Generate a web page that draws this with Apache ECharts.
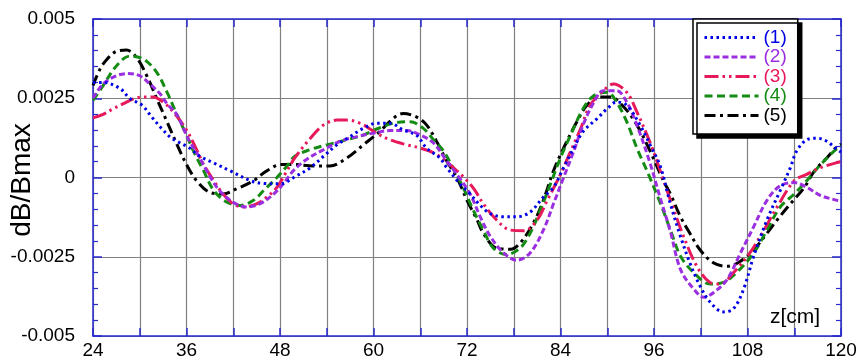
<!DOCTYPE html>
<html><head><meta charset="utf-8">
<script src="https://cdn.jsdelivr.net/npm/echarts@6/dist/echarts.min.js"></script>
<style>html,body{margin:0;padding:0;background:#fff}#c{width:861px;height:360px}</style>
</head><body><div id="c"></div>
<script>
const seriesNames = ['(1)', '(2)', '(3)', '(4)', '(5)'];

const z1 = [24, 25.3, 27.5, 28.7, 30.3, 31.5, 32.8, 34.1, 36.4, 37.7, 39.4, 41.6, 44.2, 46, 48, 50.1, 51.9, 53.6, 55.3, 57, 58.7, 60.4, 62.1, 63.8, 65.5, 66.8, 68.5, 69.4, 71.1, 72.4, 73.7, 75, 76.7, 78.4, 80.1, 81.8, 83.1, 84.4, 85.7, 86.9, 88.7, 90, 91.2, 92.5, 94.2, 95.5, 96.8, 98.1, 99.4, 100.6, 101.9, 103.2, 104.9, 106.2, 107.5, 108.8, 110.5, 112.2, 113.5, 114.3, 115.6, 116.9, 118.2, 119.5, 120];
const v1 = [3.0e-3, 3.0e-3, 2.8e-3, 2.5e-3, 2.28e-3, 1.92e-3, 1.55e-3, 1.24e-3, 0.93e-3, 0.67e-3, 0.47e-3, 0.21e-3, -0.1e-3, -0.19e-3, -0.2e-3, 0.05e-3, 0.31e-3, 0.67e-3, 1.03e-3, 1.29e-3, 1.55e-3, 1.71e-3, 1.71e-3, 1.5e-3, 1.34e-3, 0.93e-3, 0.62e-3, 0.31e-3, -0.2e-3, -0.52e-3, -0.88e-3, -1.14e-3, -1.24e-3, -1.24e-3, -1.09e-3, -0.62e-3, -0.31e-3, 0.31e-3, 0.93e-3, 1.45e-3, 1.86e-3, 2.17e-3, 2.38e-3, 2.28e-3, 1.66e-3, 1.03e-3, 0.36e-3, -0.83e-3, -1.86e-3, -2.69e-3, -3.42e-3, -3.93e-3, -4.24e-3, -4.14e-3, -3.52e-3, -2.48e-3, -1.34e-3, -0.41e-3, 0.31e-3, 0.83e-3, 1.19e-3, 1.24e-3, 1.14e-3, 0.88e-3, 0.8e-3];

const z2 = [24, 25.3, 27, 28.5, 30, 31.3, 32.6, 33.5, 34.8, 35.6, 36.4, 37.7, 38.6, 39.9, 41.6, 43.7, 45.4, 47.2, 48.4, 49.7, 51.4, 53.6, 55.7, 57.9, 60, 62.1, 64.3, 66, 67.7, 69.4, 70.7, 72.4, 73.7, 75, 76.7, 78.4, 80.1, 81.8, 83.1, 84.4, 85.7, 86.9, 88.3, 89.5, 91.2, 92.5, 93.8, 95.5, 96.8, 98.1, 99.4, 101.1, 102.4, 103.7, 105.4, 107.1, 108.8, 110.5, 112.2, 114, 115.6, 117.4, 119.5, 120];
const v2 = [2.5e-3, 2.95e-3, 3.21e-3, 3.28e-3, 3.21e-3, 2.95e-3, 2.64e-3, 2.33e-3, 1.97e-3, 1.55e-3, 1.14e-3, 0.62e-3, 0.21e-3, -0.31e-3, -0.72e-3, -0.93e-3, -0.83e-3, -0.52e-3, -0.21e-3, 0.21e-3, 0.57e-3, 0.88e-3, 1.14e-3, 1.29e-3, 1.4e-3, 1.48e-3, 1.48e-3, 1.34e-3, 1.09e-3, 0.52e-3, 0.1e-3, -0.52e-3, -1.24e-3, -1.86e-3, -2.38e-3, -2.61e-3, -2.38e-3, -1.66e-3, -0.83e-3, 0, 0.83e-3, 1.66e-3, 2.38e-3, 2.74e-3, 2.74e-3, 2.38e-3, 1.66e-3, 0.45e-3, -0.65e-3, -1.7e-3, -2.9e-3, -3.52e-3, -3.78e-3, -3.62e-3, -3.21e-3, -2.38e-3, -1.55e-3, -0.72e-3, -0.26e-3, -0.16e-3, -0.31e-3, -0.57e-3, -0.72e-3, -0.75e-3];

const z3 = [24, 25.3, 26.6, 27.9, 29.2, 30.5, 31.7, 33, 34.3, 36, 37.1, 38.2, 39.5, 40.7, 42, 43.3, 45, 46.3, 47.6, 48.9, 49.9, 51.9, 53.6, 55.3, 56.6, 58.3, 60.4, 62.1, 64.3, 66, 67.7, 69, 70.7, 72, 73, 74.1, 75.8, 77.6, 79.3, 81, 82.3, 84, 85.3, 86.6, 87.8, 89.5, 90.8, 92.5, 93.8, 95.5, 96.8, 98.3, 99.8, 101.5, 103.2, 104.5, 106.2, 108.3, 110.1, 111.8, 114, 115.6, 117.4, 119.5, 120];
const v3 = [1.88e-3, 1.99e-3, 2.17e-3, 2.33e-3, 2.48e-3, 2.54e-3, 2.54e-3, 2.38e-3, 2.07e-3, 1.5e-3, 0.98e-3, 0.41e-3, -0.1e-3, -0.52e-3, -0.83e-3, -0.93e-3, -0.83e-3, -0.62e-3, -0.31e-3, 0.21e-3, 0.62e-3, 1.24e-3, 1.66e-3, 1.81e-3, 1.81e-3, 1.71e-3, 1.4e-3, 1.19e-3, 1.03e-3, 0.93e-3, 0.78e-3, 0.57e-3, 0.21e-3, -0.1e-3, -0.4e-3, -0.83e-3, -1.34e-3, -1.66e-3, -1.68e-3, -1.34e-3, -0.72e-3, 0.1e-3, 0.83e-3, 1.55e-3, 2.28e-3, 2.74e-3, 2.95e-3, 2.69e-3, 2.07e-3, 1.1e-3, 0.21e-3, -0.85e-3, -1.86e-3, -2.8e-3, -3.31e-3, -3.36e-3, -3.0e-3, -2.38e-3, -1.66e-3, -0.93e-3, -0.1e-3, 0.1e-3, 0.31e-3, 0.47e-3, 0.5e-3];

const z4 = [24, 25.3, 27, 28.7, 30.5, 32.2, 33.5, 34.8, 36, 36.9, 38.2, 39.5, 41.2, 42.9, 44.6, 45.9, 47.6, 48.9, 49.9, 51.9, 54, 56.6, 58.7, 60.4, 62.5, 64.7, 66.4, 67.7, 69, 70.3, 71.5, 72.8, 74.1, 75.4, 77.1, 78.8, 80.1, 81.4, 82.7, 84, 85.3, 86.9, 88.3, 90, 91.2, 92.5, 93.8, 95.1, 96.8, 98.1, 99.4, 101.1, 103.2, 104.9, 106.6, 108.8, 110.5, 112.2, 114, 115.6, 117.4, 119.1, 120];
const v4 = [2.43e-3, 2.9e-3, 3.52e-3, 3.83e-3, 3.73e-3, 3.31e-3, 2.69e-3, 1.97e-3, 1.34e-3, 0.83e-3, 0.21e-3, -0.41e-3, -0.78e-3, -0.88e-3, -0.72e-3, -0.41e-3, 0, 0.36e-3, 0.67e-3, 0.88e-3, 1.03e-3, 1.19e-3, 1.34e-3, 1.53e-3, 1.71e-3, 1.76e-3, 1.55e-3, 1.19e-3, 0.83e-3, 0.26e-3, -0.31e-3, -1.03e-3, -1.66e-3, -2.23e-3, -2.43e-3, -2.23e-3, -1.76e-3, -1.03e-3, -0.21e-3, 0.62e-3, 1.34e-3, 2.17e-3, 2.59e-3, 2.69e-3, 2.38e-3, 1.76e-3, 0.93e-3, 0.21e-3, -0.8e-3, -1.65e-3, -2.48e-3, -3.0e-3, -3.36e-3, -3.31e-3, -3.0e-3, -2.38e-3, -1.66e-3, -0.93e-3, -0.52e-3, -0.1e-3, 0.41e-3, 0.83e-3, 1.0e-3];

const z5 = [24, 24.9, 25.8, 27, 28.3, 29.6, 30.9, 32.2, 33.5, 34.8, 36, 37.3, 39, 40.7, 42.4, 44.6, 46.3, 48.2, 49.7, 52.3, 54.4, 56.6, 58.7, 60.8, 62.5, 63.8, 65.5, 66.8, 68.1, 69.4, 70.7, 72, 73.3, 74.1, 75.8, 77.6, 78.8, 80.5, 81.8, 83.1, 84.4, 86.1, 87.4, 89.1, 90.4, 92.1, 93.8, 95.5, 97.2, 98.1, 99.4, 100.6, 101.9, 103.6, 105.4, 107.1, 108.8, 110.5, 111.8, 113.5, 115.3, 116.6, 118.2, 119.5, 120];
const v5 = [2.9e-3, 3.42e-3, 3.73e-3, 3.98e-3, 4.02e-3, 3.78e-3, 3.21e-3, 2.48e-3, 1.76e-3, 1.03e-3, 0.41e-3, -0.1e-3, -0.47e-3, -0.52e-3, -0.36e-3, -0.1e-3, 0.21e-3, 0.41e-3, 0.41e-3, 0.36e-3, 0.36e-3, 0.62e-3, 1.03e-3, 1.45e-3, 1.86e-3, 2.02e-3, 1.91e-3, 1.66e-3, 1.14e-3, 0.52e-3, 0, -0.72e-3, -1.34e-3, -1.76e-3, -2.23e-3, -2.26e-3, -2.07e-3, -1.45e-3, -0.72e-3, 0.21e-3, 0.93e-3, 1.76e-3, 2.28e-3, 2.54e-3, 2.54e-3, 2.23e-3, 1.66e-3, 0.83e-3, -0.1e-3, -0.52e-3, -1.24e-3, -1.76e-3, -2.28e-3, -2.69e-3, -2.8e-3, -2.64e-3, -2.28e-3, -1.76e-3, -1.34e-3, -0.83e-3, -0.31e-3, 0.21e-3, 0.62e-3, 0.98e-3, 1.05e-3];

const xLabelTicks = [24, 36, 48, 60, 72, 84, 96, 108, 120];
const yLabelTicks = [-0.005, -0.0025, 0, 0.0025, 0.005];

const zs = [z1, z2, z3, z4, z5];
const vs = [v1, v2, v3, v4, v5];
const colors = ['#0000e6', '#9b2ee0', '#e8195a', '#148c14', '#000000'];
const dashes = [[2.5, 3.5], [6, 3], [14, 4, 2.5, 4, 2.5, 4], [8, 4.5], [11, 4.5, 3, 4.5]];
const FONT = 'Liberation Sans, Arial, Helvetica, sans-serif';
const AXIS_BLUE = '#2a2ad0';
const GRID_GRAY = '#808080';
const LW = 3;

const chart = echarts.init(document.getElementById('c'), null, {renderer: 'canvas'});

const series = seriesNames.map((n, i) => ({
  name: n,
  type: 'line',
  xAxisIndex: 0, yAxisIndex: 0,
  data: zs[i].map((z, k) => [z, vs[i][k]]),
  smooth: 0.35,
  symbol: 'none',
  showSymbol: false,
  lineStyle: {color: colors[i], width: LW, type: dashes[i], cap: 'butt'},
  itemStyle: {color: colors[i]},
  z: 10 - i,
  animation: false
}));

const xCommon = {type: 'value', min: 24, max: 120, interval: 6};
const yCommon = {type: 'value', min: -0.005, max: 0.005, interval: 0.0025};

chart.setOption({
  animation: false,
  backgroundColor: '#ffffff',
  grid: {left: 93, right: 20, top: 19, bottom: 19, containLabel: false},
  xAxis: [
    Object.assign({}, xCommon, {
      position: 'bottom',
      axisLine: {show: true, onZero: false, lineStyle: {color: AXIS_BLUE, width: 1.5}},
      axisTick: {show: true, inside: true, length: 8, lineStyle: {color: AXIS_BLUE, width: 1.5}},
      axisLabel: {
        show: true, margin: 5, fontSize: 19, color: '#000', fontFamily: FONT,
        formatter: v => xLabelTicks.indexOf(v) >= 0 ? String(v) : ''
      },
      splitLine: {show: true, lineStyle: {color: GRID_GRAY, width: 1.2}}
    }),
    Object.assign({}, xCommon, {
      position: 'top',
      axisLine: {show: true, onZero: false, lineStyle: {color: AXIS_BLUE, width: 1.5}},
      axisTick: {show: true, inside: true, length: 8, lineStyle: {color: AXIS_BLUE, width: 1.5}},
      axisLabel: {show: false},
      splitLine: {show: false}
    })
  ],
  yAxis: [
    Object.assign({}, yCommon, {
      position: 'left',
      axisLine: {show: true, onZero: false, lineStyle: {color: AXIS_BLUE, width: 1.5}},
      axisTick: {show: true, inside: true, length: 9, lineStyle: {color: AXIS_BLUE, width: 1.5}},
      minorTick: {show: true, splitNumber: 5, length: 5, lineStyle: {color: AXIS_BLUE, width: 1.2}},
      axisLabel: {
        show: true, margin: 18, fontSize: 19, color: '#000', fontFamily: FONT,
        formatter: v => {
          for (const t of yLabelTicks) { if (Math.abs(t - v) < 1e-9) return String(t); }
          return '';
        }
      },
      splitLine: {show: true, lineStyle: {color: GRID_GRAY, width: 1.2}}
    }),
    Object.assign({}, yCommon, {
      position: 'right',
      axisLine: {show: true, onZero: false, lineStyle: {color: AXIS_BLUE, width: 1.5}},
      axisTick: {show: true, inside: true, length: 9, lineStyle: {color: AXIS_BLUE, width: 1.5}},
      minorTick: {show: true, splitNumber: 5, length: 5, lineStyle: {color: AXIS_BLUE, width: 1.2}},
      axisLabel: {show: false},
      splitLine: {show: false}
    })
  ],
  legend: {
    orient: 'vertical',
    left: 693, top: 19,
    padding: [9, 11, 9, 10],
    itemWidth: 54, itemHeight: 14, itemGap: 0.5,
    backgroundColor: '#ffffff',
    borderColor: '#000000', borderWidth: 1.5, borderRadius: 0,
    shadowColor: '#000000', shadowOffsetX: 4, shadowOffsetY: 4, shadowBlur: 0,
    itemStyle: {opacity: 0, borderWidth: 0},
    lineStyle: {width: LW},
    textStyle: {fontSize: 19, fontFamily: FONT},
    data: seriesNames.map((n, i) => ({name: n, textStyle: {color: colors[i]}})),
    selectedMode: false
  },
  graphic: [
    {
      type: 'text', x: 22, y: 180, rotation: Math.PI / 2,
      style: {text: 'dB/Bmax', fontSize: 28, fontFamily: FONT, fill: '#000', align: 'center', verticalAlign: 'middle'},
      z: 100
    },
    {
      type: 'text', x: 795, y: 317,
      style: {text: 'z[cm]', fontSize: 21, fontFamily: FONT, fill: '#000', align: 'center', verticalAlign: 'middle'},
      z: 100
    }
  ],
  series: series
});
</script>
</body></html>
